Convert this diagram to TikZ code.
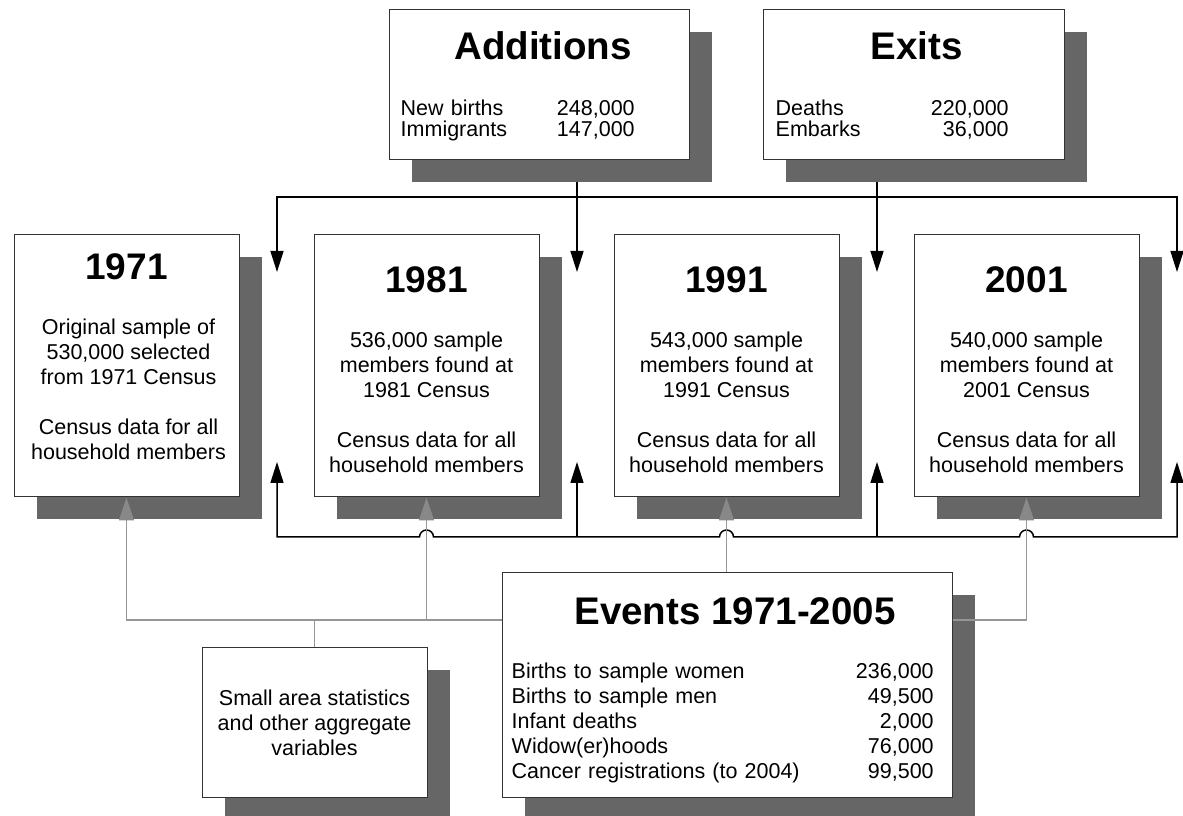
\documentclass[tikz,border=0pt]{standalone}
\usepackage{fontspec}
\setmainfont{Liberation Sans}
\usetikzlibrary{arrows.meta}
\usetikzlibrary{shadows}
\usetikzlibrary{backgrounds}
\tikzset{>={Triangle[length=21pt,width=13pt]}}
\definecolor{shadowgrey}{RGB}{102,102,102}
\definecolor{linkgrey}{RGB}{150,150,150}
\definecolor{tipgrey}{RGB}{136,136,136}
\tikzset{
  box/.style={draw=black!80, line width=1pt, fill=white, inner sep=0pt,
    drop shadow={fill=shadowgrey, opacity=1, shadow xshift=23pt, shadow yshift=-22pt}},
  head/.style={font=\fontsize{38.5}{40}\selectfont\bfseries, inner sep=0pt, anchor=base},
  yearhead/.style={head, font=\fontsize{37}{40}\selectfont\bfseries},
  body/.style={font=\fontsize{21.5}{25}\selectfont, inner sep=0pt},
  rows/.style={font=\fontsize{21.5}{21.5}\selectfont, inner sep=0pt, align=left, anchor=north west},
  flow/.style={line width=1.5pt},
  greyline/.style={draw=linkgrey, line width=1.4pt},
  greyarrow/.style={greyline, -{Triangle[length=23pt,width=15pt,color=tipgrey]}}
}

\begin{document}
\begin{tikzpicture}[x=1pt,y=1pt]
  \useasboundingbox (0,0) rectangle (1183,816);

  % 方框
  \node[box, minimum width=300, minimum height=150] (add) at (539,731) {};
  \node[box, minimum width=301, minimum height=150] (exit) at (913.5,731) {};
  \node[box, minimum width=225, minimum height=262] (y1971) at (126.5,450) {};
  \node[box, minimum width=225, minimum height=262] (y1981) at (426.5,450) {};
  \node[box, minimum width=225, minimum height=262] (y1991) at (726.5,450) {};
  \node[box, minimum width=225, minimum height=262] (y2001) at (1026.5,450) {};
  \node[box, minimum width=450, minimum height=225] (ev) at (727,130.5) {};
  \node[box, minimum width=225, minimum height=150] (sm) at (314.5,93) {};

  % 标题
  \node[head] (addT) at ([xshift=4, yshift=-50]add.north) {Additions};
  \node[head] (exitT) at ([xshift=3, yshift=-50]exit.north) {Exits};
  \node[yearhead] (y1971T) at ([yshift=-45]y1971.north) {1971};
  \node[yearhead] (y1981T) at ([yshift=-58]y1981.north) {1981};
  \node[yearhead] (y1991T) at ([yshift=-58]y1991.north) {1991};
  \node[yearhead] (y2001T) at ([yshift=-58]y2001.north) {2001};
  \node[head] (evT) at ([xshift=8, yshift=-52]ev.north) {Events 1971-2005};

  % 文字
  \node[rows, text width=234] (addR) at ([xshift=12, yshift=-90]add.north west)
    {New births\hfill 248,000\\Immigrants\hfill 147,000};
  \node[rows, text width=233] (exitR) at ([xshift=13, yshift=-90]exit.north west)
    {Deaths\hfill 220,000\\Embarks\hfill 36,000};
  \node[body, align=center, anchor=north] (y1971L) at ([xshift=2, yshift=-84.5]y1971.north)
    {Original sample of\\530,000 selected\\from 1971 Census\\[25pt]Census data for all\\household members};
  \node[body, align=center, anchor=north] (y1981L) at ([yshift=-97.5]y1981.north)
    {536,000 sample\\members found at\\1981 Census\\[25pt]Census data for all\\household members};
  \node[body, align=center, anchor=north] (y1991L) at ([yshift=-97.5]y1991.north)
    {543,000 sample\\members found at\\1991 Census\\[25pt]Census data for all\\household members};
  \node[body, align=center, anchor=north] (y2001L) at ([yshift=-97.5]y2001.north)
    {540,000 sample\\members found at\\2001 Census\\[25pt]Census data for all\\household members};
  \node[rows, font=\fontsize{21.5}{25}\selectfont, text width=422] (evR) at ([xshift=10, yshift=-90.5]ev.north west)
    {Births to sample women\hfill 236,000\\Births to sample men\hfill 49,500\\Infant deaths\hfill 2,000\\Widow(er)hoods\hfill 76,000\\Cancer registrations (to 2004)\hfill 99,500};
  \node[body, align=center] (smL) at (sm.center)
    {Small area statistics\\and other aggregate\\variables};

  % 坐标点定义
  \coordinate (t1) at (277,619);
  \coordinate (t2) at (577,619);
  \coordinate (t3) at (877,619);
  \coordinate (t4) at (1177,619);
  \coordinate (d1) at (277,544);
  \coordinate (d2) at (577,544);
  \coordinate (d3) at (877,544);
  \coordinate (d4) at (1177,544);
  \coordinate (b1) at (277,279);
  \coordinate (b2) at (577,279);
  \coordinate (b3) at (877,279);
  \coordinate (b4) at (1177,279);
  \coordinate (u1) at (277,354);
  \coordinate (u2) at (577,354);
  \coordinate (u3) at (877,354);
  \coordinate (u4) at (1177,354);
  \coordinate (c2) at (y1981.south |- b1);
  \coordinate (c3) at (y1991.south |- b1);
  \coordinate (c4) at (y2001.south |- b1);
  \coordinate (gy) at (0,196);

  % 黑色连线
  \begin{scope}[on background layer]
    \draw[flow,<->] (d1) -- (t1) -- (t4) -- (d4);
    \draw[flow,->] (add.south -| t2) -- (d2);
    \draw[flow,->] (exit.south -| t3) -- (d3);
  \end{scope}
  \draw[flow,<->] (u1) -- (b1) -- ([xshift=-7]c2) arc[start angle=180, end angle=0, radius=7]
    -- ([xshift=-7]c3) arc[start angle=180, end angle=0, radius=7]
    -- ([xshift=-7]c4) arc[start angle=180, end angle=0, radius=7] -- (b4) -- (u4);
  \draw[flow,->] (b2) -- (u2);
  \draw[flow,->] (b3) -- (u3);

  % 灰色连线
  \draw[greyarrow] (ev.west |- gy) -- (y1971.south |- gy) -- (y1971.south);
  \draw[greyarrow] (y1981.south |- gy) -- (y1981.south);
  \draw[greyline] (sm.north) -- (sm.north |- gy);
  \draw[greyarrow] (y1991.south |- ev.north) -- (y1991.south);
  \draw[greyarrow] (ev.east |- gy) -- (y2001.south |- gy) -- (y2001.south);
\end{tikzpicture}
\end{document}
